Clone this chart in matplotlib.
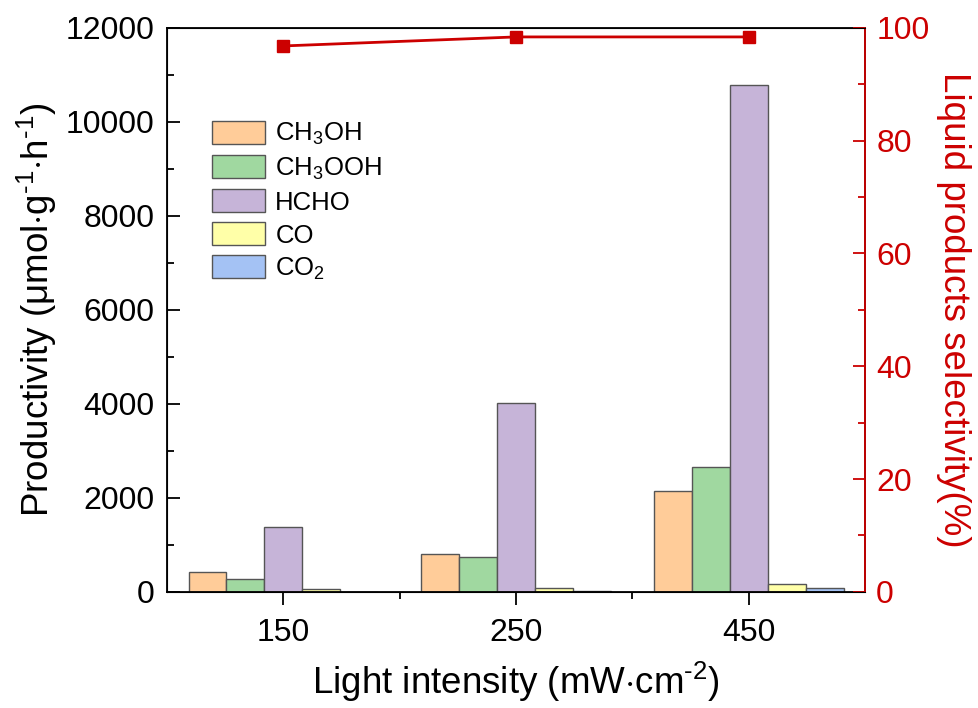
import numpy as np
import matplotlib
matplotlib.use("Agg")
import matplotlib.pyplot as plt
from matplotlib.patches import Patch
from matplotlib.ticker import MultipleLocator, FixedLocator

plt.rcParams["font.family"] = ["Liberation Sans", "DejaVu Sans"]
plt.rcParams["mathtext.fontset"] = "custom"
plt.rcParams["mathtext.rm"] = "Liberation Sans"
plt.rcParams["mathtext.it"] = "Liberation Sans"

# data
intensity = ["150", "250", "450"]
products = ["CH$_3$OH", "CH$_3$OOH", "HCHO", "CO", "CO$_2$"]
ch3oh = [430, 810, 2150]
ch3ooh = [280, 745, 2650]
hcho = [1385, 4010, 10790]
co = [70, 90, 170]
co2 = [8, 10, 90]
selectivity = [96.8, 98.4, 98.4]

colors = ["#FFCC99", "#A0D8A0", "#C6B4D8", "#FFFFA8", "#A4C2F4"]
red = "#CC0000"

series = [ch3oh, ch3ooh, hcho, co, co2]
x = np.arange(len(intensity))
width = 0.163

fig = plt.figure(figsize=(9.79, 7.08), dpi=100)
ax = fig.add_axes([0.1706, 0.164, 0.7130, 0.7966])

for i, vals in enumerate(series):
    ax.bar(x + (i - 2) * width, vals, width, color=colors[i],
           edgecolor="#555555", linewidth=1.0, zorder=2)

ax.set_xlim(-0.5, 2.5)
ax.set_ylim(0, 12000)
ax.set_xticks(x)
ax.set_xticklabels(intensity)
ax.xaxis.set_minor_locator(FixedLocator([0.5, 1.5]))
ax.yaxis.set_major_locator(MultipleLocator(2000))
ax.yaxis.set_minor_locator(MultipleLocator(1000))
ax.tick_params(axis="y", which="both", direction="in", labelsize=23, width=1.3, pad=9)
ax.tick_params(axis="y", which="major", length=9)
ax.tick_params(axis="y", which="minor", length=5)
ax.tick_params(axis="x", which="both", direction="out", labelsize=23, width=1.3, pad=10)
ax.tick_params(axis="x", which="major", length=9)
ax.tick_params(axis="x", which="minor", length=5)
for s in ax.spines.values():
    s.set_linewidth(1.3)

ax.set_xlabel("Light intensity (mW$\\cdot$cm$^{\\text{-2}}$)", fontsize=26.5, labelpad=8)
ax.set_ylabel("Productivity (μmol$\\cdot$g$^{\\text{-1}}$$\\cdot$h$^{\\text{-1}}$)",
              fontsize=26.5, labelpad=5)

handles = [Patch(facecolor=c, edgecolor="#555555", linewidth=1.0) for c in colors]
ax.legend(handles, products, loc="upper left", bbox_to_anchor=(0.065, 0.835),
          frameon=False, fontsize=18.5, handlelength=2.05, handleheight=1.0,
          handletextpad=0.4, labelspacing=0.3, borderaxespad=0, borderpad=0)

ax2 = ax.twinx()
ax2.plot(x, selectivity, color=red, marker="s", markersize=8.5, linewidth=2, zorder=3)
ax2.set_ylim(0, 100)
ax2.yaxis.set_major_locator(MultipleLocator(20))
ax2.yaxis.set_minor_locator(MultipleLocator(10))
ax2.tick_params(axis="y", which="both", direction="in", colors=red, labelsize=23, width=1.3, pad=8)
ax2.tick_params(axis="y", which="major", length=9)
ax2.tick_params(axis="y", which="minor", length=5)
ax2.spines["right"].set_color(red)
ax2.spines["right"].set_linewidth(1.3)
ax2.set_ylabel("Liquid products selectivity(%)", color=red, fontsize=26.5,
               rotation=270, labelpad=30)

fig.savefig("out.png", dpi=100)
